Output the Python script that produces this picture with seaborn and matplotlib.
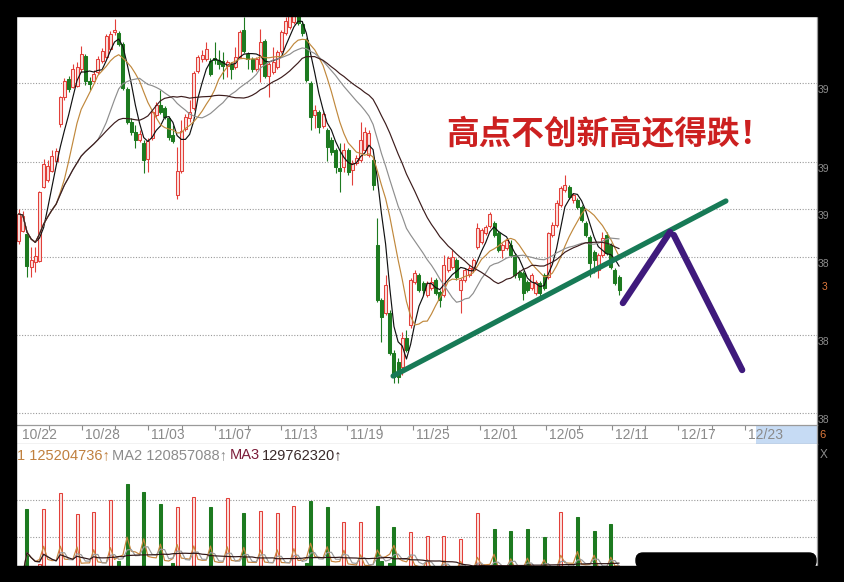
import numpy as np
import pandas as pd
import seaborn as sns
import matplotlib.pyplot as plt
from matplotlib.patches import Rectangle, FancyBboxPatch
import matplotlib.transforms as mtransforms

# 60-minute bars, bar number 2..146 (four bars per trading day)
bar_no = list(range(2, 147))

opens = [3886, 3891, 3889.5, 3873, 3875.5, 3876, 3913, 3916.5, 3921, 3926,
         3944.5, 3958, 3967, 3963, 3963.5, 3972, 3978.5, 3966, 3966, 3970.5,
         3976, 3978, 3982, 3990.5, 3990, 3984.5, 3962, 3945.5, 3940.5, 3936.5,
         3935, 3927, 3937.5, 3949, 3954, 3952.5, 3947.5, 3939, 3909, 3921,
         3942, 3947.5, 3952.5, 3971, 3977, 3977, 3976, 3977.5, 3976.5, 3976,
         3973.5, 3974.5, 3973, 3978, 3991.5, 3979.5, 3977, 3972, 3974.5, 3986,
         3968.5, 3970.5, 3973, 3981, 3990, 3993, 3995.5, 3998.5, 3994.5, 3986.5,
         3965, 3949, 3950.5, 3943.5, 3941.5, 3936.5, 3931.5, 3922.5, 3923, 3931.5,
         3921.5, 3925, 3926.5, 3931.5, 3929, 3926.5, 3884, 3856.5, 3850, 3850,
         3830, 3825.5, 3823, 3837.5, 3844, 3865.5, 3869, 3865, 3859, 3862.5,
         3866.5, 3860.5, 3859, 3871.5, 3873, 3876.5, 3861.5, 3866.5, 3869, 3871.5,
         3883, 3885.5, 3890, 3893.5, 3895, 3890, 3881.5, 3882.5, 3884, 3879,
         3870.5, 3870, 3865.5, 3862.5, 3860, 3865, 3869, 3868, 3889, 3894,
         3904, 3911.5, 3913, 3906.5, 3906.5, 3903, 3895, 3888, 3880.5, 3871.5,
         3879, 3889, 3884, 3871.5, 3868]
closes = [3899.5, 3898.5, 3873.5, 3876.5, 3878.5, 3910.5, 3924.5, 3923.5, 3928.5, 3931,
          3958, 3966, 3962, 3972, 3973, 3979.5, 3966, 3964.5, 3969.5, 3977,
          3981, 3988.5, 3989.5, 3991.5, 3984.5, 3962.5, 3945.5, 3940.5, 3936.5, 3939.5,
          3926.5, 3936, 3950.5, 3954, 3950.5, 3948, 3938, 3936, 3921, 3941,
          3948, 3950.5, 3970, 3978, 3979, 3982, 3969.5, 3976.5, 3974.5, 3973.5,
          3975.5, 3972, 3978, 3990.5, 3981, 3977, 3972, 3977, 3985.5, 3968.5,
          3974.5, 3975.5, 3980.5, 3990.5, 3996, 3998.5, 3999.5, 3995, 3990, 3966.5,
          3948, 3951.5, 3943, 3949.5, 3933, 3930.5, 3923, 3921, 3931.5, 3920.5,
          3925, 3927.5, 3936.5, 3940.5, 3940, 3914, 3856.5, 3848, 3864, 3830,
          3818, 3818, 3837.5, 3831.5, 3866.5, 3870, 3861.5, 3861.5, 3865, 3865.5,
          3860, 3856.5, 3874, 3877.5, 3878, 3868, 3866.5, 3871.5, 3872.5, 3876.5,
          3892.5, 3891.5, 3893, 3899.5, 3889, 3881.5, 3884, 3886.5, 3879, 3869,
          3868, 3860, 3861.5, 3869, 3865.5, 3860, 3862.5, 3890, 3894, 3905,
          3912.5, 3914, 3908, 3909, 3903, 3896.5, 3889, 3875, 3876.5, 3879,
          3887.5, 3880, 3873, 3865, 3861.5]
highs = [3902, 3901, 3891, 3883, 3883, 3911, 3927, 3926.5, 3931.5, 3932.5,
         3958.5, 3967.5, 3968.5, 3974.5, 3975.5, 3983.5, 3979.5, 3968, 3971.5, 3978.5,
         3982.5, 3989.5, 3991, 3997, 3991, 3985.5, 3963, 3947.5, 3944, 3941.5,
         3936.5, 3937.5, 3951.5, 3955.5, 3961.5, 3953.5, 3948.5, 3944, 3933, 3946.5,
         3949.5, 3956.5, 3971, 3979, 3981.5, 3985.5, 3977.5, 3985.5, 3981.5, 3980.5,
         3976.5, 3975.5, 3983, 3991.5, 3998, 3980.5, 3978, 3978, 3992, 3987,
         3975.5, 3983, 3981.5, 3991.5, 3998, 4000.5, 4001.5, 4000.5, 3996, 3987.5,
         3966, 3954, 3951.5, 3950.5, 3942.5, 3938, 3932.5, 3935, 3935, 3932.5,
         3926.5, 3929, 3945.5, 3943, 3941.5, 3928, 3897.5, 3857.5, 3869, 3851.5,
         3831.5, 3827.5, 3840.5, 3841.5, 3867.5, 3871.5, 3870, 3866, 3866, 3868,
         3867.5, 3861.5, 3879, 3878.5, 3881.5, 3877.5, 3867.5, 3872.5, 3874, 3877.5,
         3895, 3892.5, 3894, 3900.5, 3896, 3891, 3885, 3887.5, 3886.5, 3880,
         3871.5, 3871, 3866.5, 3870, 3866.5, 3866, 3870, 3890.5, 3895.5, 3906.5,
         3913.5, 3919, 3914, 3910, 3907.5, 3904, 3896, 3889, 3881.5, 3880,
         3890.5, 3890.5, 3885, 3872.5, 3869]
lows = [3884.5, 3890.5, 3868, 3868, 3870.5, 3875.5, 3912.5, 3915.5, 3920.5, 3925.5,
        3943, 3956.5, 3960.5, 3962.5, 3963, 3970.5, 3964, 3961.5, 3965, 3969.5,
        3975, 3977.5, 3981.5, 3989, 3983.5, 3961.5, 3944.5, 3939, 3932.5, 3935.5,
        3920, 3920.5, 3936.5, 3948, 3949.5, 3947, 3936.5, 3935, 3907, 3920,
        3941, 3945.5, 3951.5, 3970, 3975.5, 3976, 3968.5, 3974.5, 3972, 3967,
        3968, 3967, 3972, 3977.5, 3980, 3972, 3970.5, 3971, 3965.5, 3967.5,
        3958, 3969.5, 3972, 3980, 3989, 3992, 3994.5, 3994, 3988.5, 3965.5,
        3941.5, 3942.5, 3940, 3942.5, 3926, 3929, 3920, 3910.5, 3920.5, 3919,
        3914, 3924, 3925.5, 3930.5, 3928, 3911.5, 3855.5, 3835.5, 3849, 3829,
        3815, 3815, 3819, 3830.5, 3842.5, 3864.5, 3860.5, 3859, 3858, 3861.5,
        3859, 3853, 3858, 3870.5, 3872, 3866.5, 3850, 3865.5, 3868, 3870.5,
        3882, 3884.5, 3889, 3892.5, 3888, 3880.5, 3877.5, 3881.5, 3878, 3867.5,
        3866.5, 3856.5, 3860.5, 3861.5, 3859, 3856.5, 3861.5, 3867, 3888, 3893,
        3903, 3910.5, 3907, 3905, 3902, 3895.5, 3888, 3868, 3870, 3867.5,
        3878, 3879, 3872, 3864, 3859]

# volume per bar, millions of shares
volume = [102, 96,
          276, 104, 92, 127, 276, 98, 88, 95, 319, 101, 93, 90, 262, 99, 105, 94,
          268, 97, 91, 100, 300, 108, 135, 112, 343, 110, 98, 103, 322, 105, 96, 92,
          289, 101, 97, 130, 281, 106, 94, 90, 308, 100, 93, 96, 281, 99, 88, 95,
          305, 97, 91, 102, 265, 104, 95, 89, 270, 103, 97, 92, 265, 98, 101, 94,
          284, 106, 99, 130, 297, 104, 96, 91, 281, 100, 95, 103, 241, 97, 92, 88,
          241, 99, 94, 108, 284, 135, 112, 130, 227, 110, 101, 96, 214, 98, 91, 87,
          203, 94, 89, 92, 203, 95, 90, 86, 195, 92, 88, 85, 265, 97, 90, 93,
          222, 94, 88, 85, 216, 96, 91, 89, 222, 93, 87, 90, 200, 98, 92, 95,
          268, 99, 93, 90, 254, 96, 91, 98, 216, 94, 90, 92, 235, 97, 100]

date_ticks = [0, 16, 32, 48, 64, 80, 96, 112, 128, 144, 160, 176]
date_labels = ["10/22", "10/28", "11/03", "11/07", "11/13", "11/19",
               "11/25", "12/01", "12/05", "12/11", "12/17", "12/23"]
grid_levels = [3800, 3839, 3878, 3902, 3925.5, 3965]
# only the first two digits of the axis labels fit in the screenshot
grid_labels = ["38", "38", "38", "39", "39", "39"]
vol_ma_text = ["1 125204736\u2191", "MA2 120857088\u2191", "MA3", "129762320\u2191"]

# hand drawn annotation lines (bar number, price)
trend_x = [91.8, 171.6]
trend_y = [3818.5, 3906]
down1_x = [146.9, 158.2]
down1_y = [3855, 3890.5]
down2_x = [159.1, 175.5]
down2_y = [3889, 3821.5]
note_text = "高点不创新高还得跌！"

df = pd.DataFrame({"k": bar_no, "open": opens, "close": closes,
                   "high": highs, "low": lows, "vol": volume})
for n in (5, 10, 20, 30):
    df[f"ma{n}"] = df["close"].rolling(n, min_periods=1).mean()
for n in (5, 10, 20):
    df[f"vma{n}"] = df["vol"].rolling(n, min_periods=1).mean()

sns.set_theme(style="white")
plt.rcParams["font.family"] = ["Liberation Sans", "Noto Sans CJK SC", "DejaVu Sans"]

W, H = 845, 582
fig = plt.figure(figsize=(W / 100, H / 100), dpi=100)
fig.patch.set_facecolor("white")


def box(x0, y0, x1, y1):
    return [x0 / W, 1 - y1 / H, (x1 - x0) / W, (y1 - y0) / H]


ax = fig.add_axes(box(16, 16, 817, 425))
ax_d = fig.add_axes(box(16, 425, 817, 444))
ax_v = fig.add_axes(box(16, 444, 817, 566))
xlim = (1.37, 193.45)
edge = "#9a9a9a"
RED, GREEN = "#e2403a", "#1d7a20"
PINK = "#fbe1de"

# ---- price panel
up = df["close"] >= df["open"]
col = np.where(up, RED, GREEN)
face = np.where(up, PINK, GREEN)
lo = np.minimum(df["open"], df["close"])
hi = np.maximum(df["open"], df["close"])
ax.vlines(df["k"], df["low"], df["high"], colors=col, lw=0.8, zorder=2)
ax.bar(df["k"], np.maximum(hi - lo, 0.4), bottom=lo, width=0.72,
       color=face, edgecolor=col, linewidth=0.75, zorder=3)

ma_cols = {"ma5": "#111111", "ma10": "#c0883c", "ma20": "#8e8e8e", "ma30": "#3c1c1c"}
for name, c in ma_cols.items():
    sns.lineplot(x=df["k"], y=df[name], ax=ax, color=c, lw=0.85, zorder=4)

sns.lineplot(x=trend_x, y=trend_y, ax=ax, color="#177a56", lw=3.8, zorder=5)
sns.lineplot(x=down1_x, y=down1_y, ax=ax, color="#3f1a7c", lw=4.6, zorder=5)
sns.lineplot(x=down2_x, y=down2_y, ax=ax, color="#3f1a7c", lw=4.6, zorder=5)

ax.set_xlim(*xlim)
ax.set_ylim(3794, 3998.5)
ax.set_yticks(grid_levels)
ax.set_xticks([])
ax.grid(axis="y", ls=(0, (1, 1.5)), color="#9a9a9a", lw=0.8)
ax.tick_params(axis="y", left=False, labelleft=False)
ax.set_xlabel("")
ax.set_ylabel("")
for s in ("top", "left", "bottom"):
    ax.spines[s].set_visible(False)
ax.spines["right"].set_color(edge)
ax.spines["right"].set_linewidth(0.9)

ytr = mtransforms.blended_transform_factory(ax.transAxes, ax.transData)
for lv, lb in zip(grid_levels, grid_labels):
    ax.annotate(lb, xy=(1, lv), xycoords=ytr, xytext=(0.4, -1.5),
                textcoords="offset points", ha="left", va="top",
                fontsize=7.5, color="#8c8c8c", annotation_clip=False)
ax.annotate("3", xy=(1, closes[-1]), xycoords=ytr, xytext=(3, 2),
            textcoords="offset points", ha="left", va="center",
            fontsize=7.5, color="#e07a3c", annotation_clip=False)

ax.text(0.741, 0.709, note_text, transform=ax.transAxes, ha="center", va="center",
        fontsize=23.5, color="#cc2020", fontweight="bold",
        family=["Noto Sans CJK SC", "DejaVu Sans"])

# ---- date strip
ax_d.set_xlim(*xlim)
ax_d.set_ylim(0, 1)
ax_d.axvspan(178.6, xlim[1], color="#c6dbf4", lw=0)
ax_d.xaxis.set_ticks_position("top")
ax_d.set_xticks(date_ticks)
ax_d.set_xticks([t + 8 for t in date_ticks], minor=True)
ax_d.tick_params(axis="x", which="both", direction="in", length=3.5, width=0.8,
                 color="#8c8c8c", labeltop=False, labelbottom=False)
ax_d.set_yticks([])
for t, lb in zip(date_ticks, date_labels):
    ax_d.text(max(t + 0.7, 1.55), 0.47, lb, ha="left", va="center",
              fontsize=10, color="#8a8a8a")
ax_d.text(1.003, 0.47, "6", transform=ax_d.transAxes, ha="left", va="center",
          fontsize=8, color="#e07a3c")
ax_d.spines["left"].set_visible(False)
for s in ("top", "bottom", "right"):
    ax_d.spines[s].set_color(edge)
    ax_d.spines[s].set_linewidth(0.9)

# ---- volume panel
vup = df["close"] >= df["open"]
vcol = np.where(vup, RED, GREEN)
vface = np.where(vup, PINK, GREEN)
ax_v.bar(df["k"], df["vol"], width=0.72, color=vface, edgecolor=vcol,
         linewidth=0.75, zorder=2)
vma_cols = {"vma5": "#c8843c", "vma10": "#9a9a9a", "vma20": "#2e1414"}
for name, c in vma_cols.items():
    sns.lineplot(x=df["k"], y=df[name], ax=ax_v, color=c, lw=0.85, zorder=3)
ax_v.set_xlim(*xlim)
ax_v.set_ylim(121.6, 451.4)
ax_v.set_yticks([200, 300])
ax_v.set_xticks([])
ax_v.grid(axis="y", ls=(0, (1, 1.5)), color="#9a9a9a", lw=0.8)
ax_v.tick_params(axis="y", left=False, labelleft=False)
ax_v.set_xlabel("")
ax_v.set_ylabel("")
for s in ("top", "left", "bottom"):
    ax_v.spines[s].set_visible(False)
ax_v.spines["right"].set_color(edge)
ax_v.spines["right"].set_linewidth(0.9)

vtxt = [(17, "#c0803e"), (112, "#8c8c8c"), (230, "#7c1c3a"), (262, "#3a2a2a")]
for (px, c), s in zip(vtxt, vol_ma_text):
    ax_v.text((px - 16) / 801, 0.91, s, transform=ax_v.transAxes, ha="left",
              va="center", fontsize=10.5, color=c,
              family=["Liberation Sans", "DejaVu Sans"])
ax_v.text(1.003, 0.91, "X", transform=ax_v.transAxes, ha="left", va="center",
          fontsize=8.5, color="#8c8c8c")

# ---- black screenshot frame
for r in [(0, 0, 16 / W, 1), (0, 1 - 16 / H, 1, 16 / H),
          (830 / W, 0, 15 / W, 1), (0, 0, 1, 16 / H)]:
    fig.patches.append(Rectangle(r[:2], r[2], r[3], transform=fig.transFigure,
                                 color="black", zorder=20))
fig.patches.append(FancyBboxPatch((6.36, 0.14), 1.80, 0.15,
                                  boxstyle="round,pad=0,rounding_size=0.07",
                                  transform=fig.dpi_scale_trans, color="black",
                                  zorder=20))

fig.savefig("out.png", dpi=100, facecolor="black")
